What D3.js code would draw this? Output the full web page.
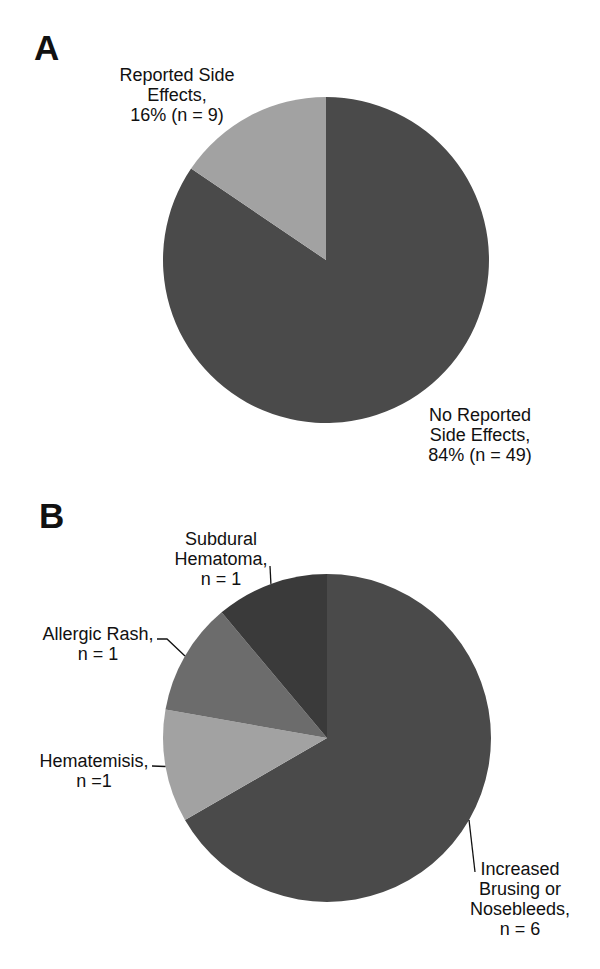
<!DOCTYPE html>
<html>
<head>
<meta charset="utf-8">
<script src="https://cdn.jsdelivr.net/npm/d3@7"></script>
<style>
  body { margin: 0; background: #fff; }
  text { font-family: 'Liberation Sans', Arial, sans-serif; fill: #111; }
</style>
</head>
<body>
<div id="chart"></div>
<script>
// panel A data
const aCategories = ['No Reported Side Effects', 'Reported Side Effects']
const aCounts = [49, 9]
const aLabels = [
  ['No Reported', 'Side Effects,', '84% (n = 49)'],
  ['Reported Side', 'Effects,', '16% (n = 9)']
]

// panel B data
const bCategories = ['Increased Brusing or Nosebleeds', 'Hematemisis', 'Allergic Rash', 'Subdural Hematoma']
const bCounts = [6, 1, 1, 1]
const bLabels = [
  ['Increased', 'Brusing or', 'Nosebleeds,', 'n = 6'],
  ['Hematemisis,', 'n =1'],
  ['Allergic Rash,', 'n = 1'],
  ['Subdural', 'Hematoma,', 'n = 1']
]

const width = 600
const height = 969

const svg = d3.select('#chart')
  .append('svg')
  .attr('width', width)
  .attr('height', height)

const pie = d3.pie().sort(null).value(d => d.value)

function drawPie (opts) {
  const data = opts.categories.map((c, i) => ({ name: c, value: opts.counts[i], label: opts.labels[i] }))
  const arcs = pie(data)
  const arc = d3.arc().innerRadius(0).outerRadius(opts.r)
  const color = d3.scaleOrdinal().domain(opts.categories).range(opts.colors)

  const g = svg.append('g')
    .attr('transform', 'translate(' + opts.cx + ',' + opts.cy + ')')

  g.selectAll('path')
    .data(arcs)
    .enter()
    .append('path')
    .attr('d', arc)
    .attr('fill', d => color(d.data.name))

  // leader lines, from the slice edge to the label
  arcs.forEach((d, i) => {
    const lay = opts.layout[i]
    if (!lay.leader) return
    const mid = (d.startAngle + d.endAngle) / 2
    const ex = Math.sin(mid) * opts.r
    const ey = -Math.cos(mid) * opts.r
    const pts = [[ex, ey]].concat(lay.leader.map(p => [p[0] - opts.cx, p[1] - opts.cy]))
    g.append('path')
      .attr('d', d3.line()(pts))
      .attr('fill', 'none')
      .attr('stroke', '#111')
      .attr('stroke-width', 1.3)
  })

  // labels
  arcs.forEach((d, i) => {
    const lay = opts.layout[i]
    const t = svg.append('text')
      .attr('text-anchor', 'middle')
      .attr('font-size', 18)
    d.data.label.forEach((line, j) => {
      t.append('tspan')
        .attr('x', lay.x)
        .attr('y', lay.y + j * 20)
        .text(line)
    })
  })
}

drawPie({
  categories: aCategories,
  counts: aCounts,
  labels: aLabels,
  colors: ['#4a4a4a', '#a2a2a2'],
  cx: 326,
  cy: 260,
  r: 163,
  layout: [
    { x: 480, y: 421 },
    { x: 177, y: 81 }
  ]
})

drawPie({
  categories: bCategories,
  counts: bCounts,
  labels: bLabels,
  colors: ['#4a4a4a', '#a2a2a2', '#6c6c6c', '#3a3a3a'],
  cx: 327,
  cy: 738,
  r: 164,
  layout: [
    { x: 520, y: 875, leader: [[475, 872]] },
    { x: 94, y: 767, leader: [[152, 766]] },
    { x: 98, y: 640, leader: [[167, 639], [157, 639]] },
    { x: 221, y: 545, leader: [[270, 566]] }
  ]
})

// panel letters
svg.append('text')
  .attr('x', 34)
  .attr('y', 60)
  .attr('font-size', 35)
  .attr('font-weight', 'bold')
  .text('A')

svg.append('text')
  .attr('x', 39)
  .attr('y', 528)
  .attr('font-size', 35)
  .attr('font-weight', 'bold')
  .text('B')
</script>
</body>
</html>
